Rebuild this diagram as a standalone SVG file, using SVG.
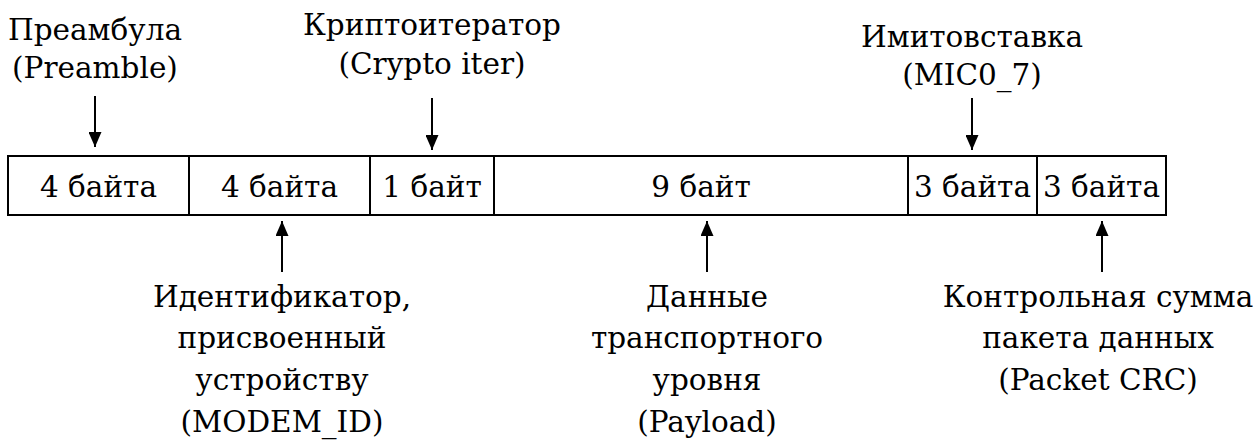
<svg xmlns="http://www.w3.org/2000/svg" width="1256" height="442" viewBox="0 0 1256 442">
<style>
text{font-family:"DejaVu Serif","Liberation Serif",serif;font-size:29.5px;fill:#000;text-anchor:middle}
.cell{fill:#fff;stroke:#000;stroke-width:2}
.con{stroke:#000;stroke-width:2;fill:none}
</style>
<defs>
<marker id="ah" viewBox="0 0 15 13" refX="15" refY="6.5" markerWidth="15" markerHeight="13" markerUnits="userSpaceOnUse" orient="auto">
<path d="M0,0 L15,6.5 L0,13 Z" fill="#000"/>
</marker>
</defs>
<rect width="1256" height="442" fill="#fff"/>
<g id="cells">
<g id="c1"><rect class="cell" x="8" y="156" width="181" height="59"/><text x="98.5" y="197">4 байта</text></g>
<g id="c2"><rect class="cell" x="189" y="156" width="181" height="59"/><text x="279.5" y="197">4 байта</text></g>
<g id="c3"><rect class="cell" x="370" y="156" width="124" height="59"/><text x="432" y="197">1 байт</text></g>
<g id="c4"><rect class="cell" x="494" y="156" width="414" height="59"/><text x="701" y="197">9 байт</text></g>
<g id="c5"><rect class="cell" x="908" y="156" width="129" height="59"/><text x="972.5" y="197">3 байта</text></g>
<g id="c6"><rect class="cell" x="1037" y="156" width="129" height="59"/><text x="1101.5" y="197">3 байта</text></g>
</g>
<g id="lbl-preamble"><text x="95" y="40">Преамбула</text><text x="95" y="78">(Preamble)</text></g>
<g id="lbl-crypto"><text x="432" y="35">Криптоитератор</text><text x="432" y="74">(Crypto iter)</text></g>
<g id="lbl-mic"><text x="972" y="47">Имитовставка</text><text x="972" y="85">(MIC0_7)</text></g>
<g id="lbl-modem"><text x="282" y="307">Идентификатор,</text><text x="282" y="348">присвоенный</text><text x="282" y="390">устройству</text><text x="282" y="432">(MODEM_ID)</text></g>
<g id="lbl-payload"><text x="707" y="307">Данные</text><text x="707" y="348">транспортного</text><text x="707" y="390">уровня</text><text x="707" y="432">(Payload)</text></g>
<g id="lbl-crc"><text x="1098" y="307">Контрольная сумма</text><text x="1098" y="348">пакета данных</text><text x="1098" y="390">(Packet CRC)</text></g>
<g id="connectors">
<line class="con" x1="95" y1="96" x2="95" y2="147" marker-end="url(#ah)"/>
<line class="con" x1="432" y1="98" x2="432" y2="150" marker-end="url(#ah)"/>
<line class="con" x1="972" y1="98" x2="972" y2="150" marker-end="url(#ah)"/>
<line class="con" x1="282" y1="272" x2="282" y2="221" marker-end="url(#ah)"/>
<line class="con" x1="707" y1="272" x2="707" y2="221" marker-end="url(#ah)"/>
<line class="con" x1="1102" y1="272" x2="1102" y2="221" marker-end="url(#ah)"/>
</g>
</svg>
